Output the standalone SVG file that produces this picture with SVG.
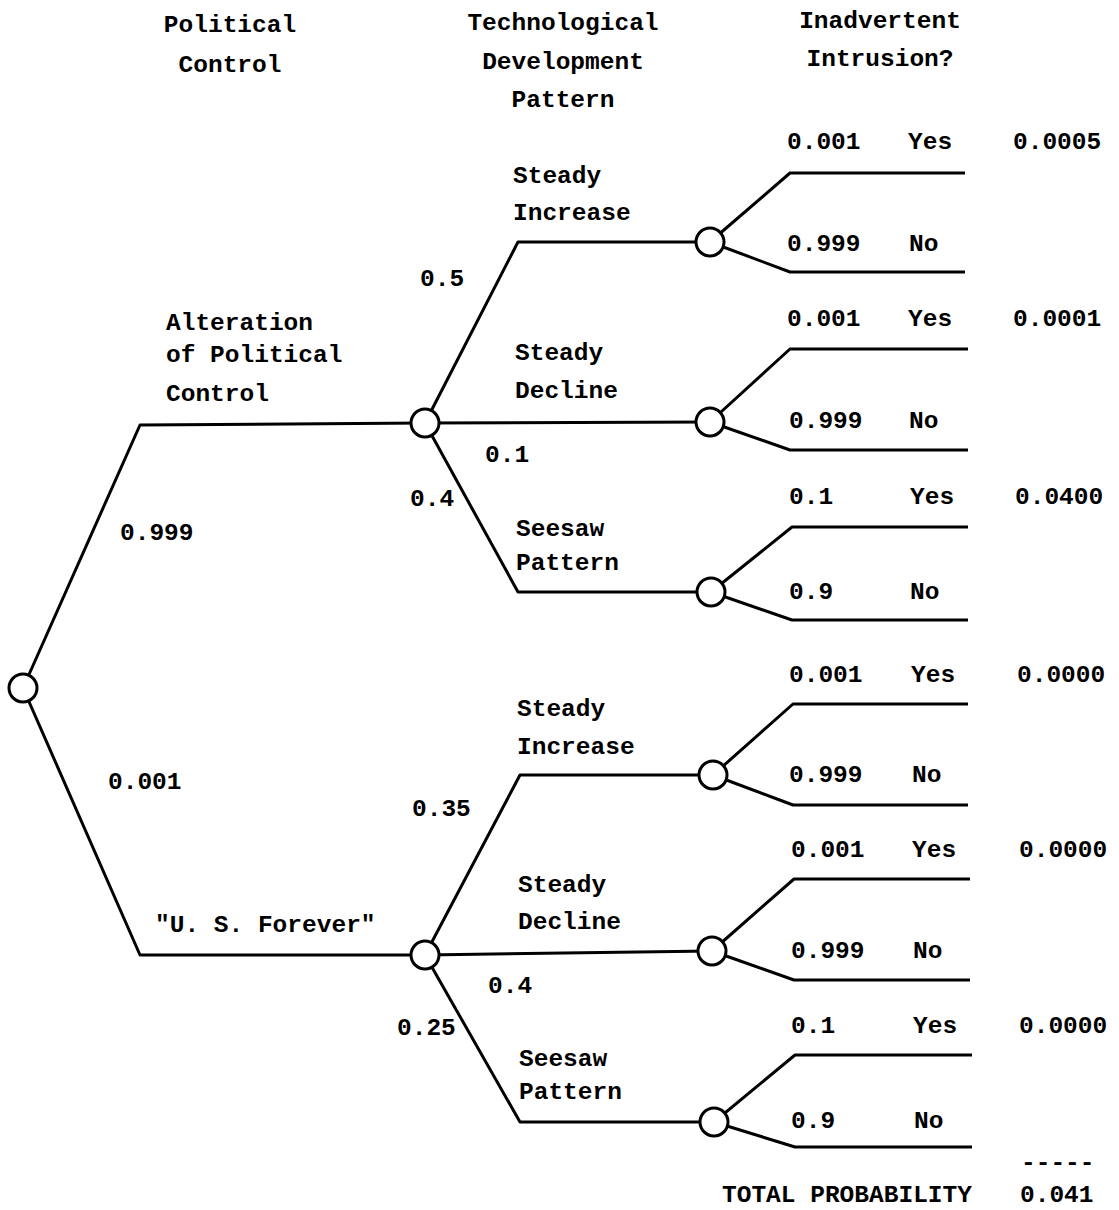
<svg xmlns="http://www.w3.org/2000/svg" width="1119" height="1210" viewBox="0 0 1119 1210">
<style>
text{font-family:"Liberation Mono","DejaVu Sans Mono",monospace;font-weight:bold;font-size:24.5px;fill:#000}
.c{text-anchor:middle}
.ln{fill:none;stroke:#000;stroke-width:3;stroke-linejoin:round}
.nd{fill:#fff;stroke:#000;stroke-width:3}
</style>
<rect width="1119" height="1210" fill="#fff"/>
<g id="headers">
<text class="c" x="230" y="32">Political</text>
<text class="c" x="230" y="72">Control</text>
<text class="c" x="563" y="30">Technological</text>
<text class="c" x="563" y="69">Development</text>
<text class="c" x="563" y="107">Pattern</text>
<text class="c" x="880" y="28">Inadvertent</text>
<text class="c" x="880" y="66">Intrusion?</text>
</g>
<g id="connectors" class="ln">
<path d="M23,688 L140,425 L425,423"/>
<path d="M23,688 L140,955 L425,955"/>
<path d="M425,423 L518,242 L710,242"/>
<path d="M425,423 L710,422"/>
<path d="M425,423 L518,592 L711,592"/>
<path d="M425,955 L520,775 L713,775"/>
<path d="M425,955 L712,951"/>
<path d="M425,955 L520,1122 L714,1122"/>
<path d="M710,242 L790,173 L965,173 M710,242 L790,272 L965,272"/>
<path d="M710,422 L790,349 L968,349 M710,422 L790,450 L968,450"/>
<path d="M711,592 L792,527 L968,527 M711,592 L792,620 L968,620"/>
<path d="M713,775 L793,704 L968,704 M713,775 L793,805 L968,805"/>
<path d="M712,951 L794,879 L970,879 M712,951 L794,980 L970,980"/>
<path d="M714,1122 L795,1055 L972,1055 M714,1122 L795,1147 L972,1147"/>
</g>
<g id="root"><circle class="nd" cx="23" cy="688" r="14"/></g>
<g id="node-alteration"><circle class="nd" cx="425" cy="423" r="14"/></g>
<g id="node-usforever"><circle class="nd" cx="425" cy="955" r="14"/></g>
<g id="node-a-increase"><circle class="nd" cx="710" cy="242" r="14"/></g>
<g id="node-a-decline"><circle class="nd" cx="710" cy="422" r="14"/></g>
<g id="node-a-seesaw"><circle class="nd" cx="711" cy="592" r="14"/></g>
<g id="node-u-increase"><circle class="nd" cx="713" cy="775" r="14"/></g>
<g id="node-u-decline"><circle class="nd" cx="712" cy="951" r="14"/></g>
<g id="node-u-seesaw"><circle class="nd" cx="714" cy="1122" r="14"/></g>
<g id="labels-level1">
<text x="166" y="330">Alteration</text>
<text x="166" y="362">of Political</text>
<text x="166" y="401">Control</text>
<text x="120" y="540">0.999</text>
<text x="108" y="789">0.001</text>
<text x="155" y="932">"U. S. Forever"</text>
</g>
<g id="labels-level2">
<text x="420" y="286">0.5</text>
<text x="513" y="183">Steady</text>
<text x="513" y="220">Increase</text>
<text x="515" y="360">Steady</text>
<text x="515" y="398">Decline</text>
<text x="485" y="462">0.1</text>
<text x="410" y="506">0.4</text>
<text x="516" y="536">Seesaw</text>
<text x="516" y="570">Pattern</text>
<text x="412" y="816">0.35</text>
<text x="517" y="716">Steady</text>
<text x="517" y="754">Increase</text>
<text x="518" y="892">Steady</text>
<text x="518" y="929">Decline</text>
<text x="488" y="993">0.4</text>
<text x="397" y="1035">0.25</text>
<text x="519" y="1066">Seesaw</text>
<text x="519" y="1099">Pattern</text>
</g>
<g id="labels-level3">
<text x="787" y="149">0.001</text><text x="908" y="149">Yes</text><text x="1013" y="149">0.0005</text>
<text x="787" y="251">0.999</text><text x="909" y="251">No</text>
<text x="787" y="326">0.001</text><text x="908" y="326">Yes</text><text x="1013" y="326">0.0001</text>
<text x="789" y="428">0.999</text><text x="909" y="428">No</text>
<text x="789" y="504">0.1</text><text x="910" y="504">Yes</text><text x="1015" y="504">0.0400</text>
<text x="789" y="599">0.9</text><text x="910" y="599">No</text>
<text x="789" y="682">0.001</text><text x="911" y="682">Yes</text><text x="1017" y="682">0.0000</text>
<text x="789" y="782">0.999</text><text x="912" y="782">No</text>
<text x="791" y="857">0.001</text><text x="912" y="857">Yes</text><text x="1019" y="857">0.0000</text>
<text x="791" y="958">0.999</text><text x="913" y="958">No</text>
<text x="791" y="1033">0.1</text><text x="913" y="1033">Yes</text><text x="1019" y="1033">0.0000</text>
<text x="791" y="1128">0.9</text><text x="914" y="1128">No</text>
</g>
<g id="total">
<text x="1021" y="1170">-----</text>
<text x="722" y="1202">TOTAL PROBABILITY</text>
<text x="1020" y="1202">0.041</text>
</g>
</svg>
